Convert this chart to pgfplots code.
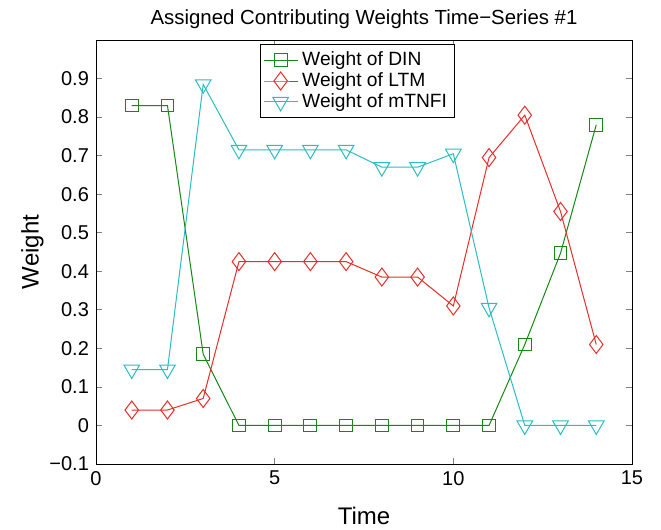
\documentclass[border=0pt]{standalone}
\usepackage{fontspec}
\setmainfont{Liberation Sans}
\usepackage{pgfplots}
\pgfplotsset{compat=1.18}
\definecolor{mgreen}{RGB}{20,135,20}
\definecolor{mred}{RGB}{230,45,40}
\definecolor{mcyan}{RGB}{40,190,195}

\begin{document}
\begin{tikzpicture}
\begin{axis}[
    scale only axis,
    width=268pt,
    height=212pt,
    xmin=0, xmax=15,
    ymin=-0.1, ymax=1.0,
    xtick={0,5,10,15},
    ytick={-0.1,0,0.1,0.2,0.3,0.4,0.5,0.6,0.7,0.8,0.9},
    yticklabels={−0.1,0,0.1,0.2,0.3,0.4,0.5,0.6,0.7,0.8,0.9},
    tick align=inside,
    major tick length=3pt,
    tick style={gray, thin},
    axis line style={black, thin},
    ticklabel style={font=\fontsize{10}{12}\selectfont},
    /pgf/number format/assume math mode=true,
    title={Assigned Contributing Weights Time−Series \#1},
    title style={font=\fontsize{10.2}{12}\selectfont, yshift=-4pt},
    xlabel={Time},
    ylabel={Weight},
    label style={font=\fontsize{12}{14}\selectfont},
    xlabel style={yshift=-4pt},
    ylabel style={yshift=-4pt},
    every axis plot/.append style={line width=0.5pt},
    legend style={at={(0.487,0.99)}, anchor=north, font=\fontsize{9.6}{10}\selectfont,
        draw=black, row sep=-2pt, inner sep=1.5pt},
    legend cell align=left,
]
\addplot[mgreen, mark=square, mark size=3.2pt, mark options={solid}] coordinates {
    (1,0.83) (2,0.83) (3,0.185) (4,0) (5,0) (6,0) (7,0) (8,0) (9,0) (10,0) (11,0)
    (12,0.21) (13,0.447) (14,0.78)
};
\addlegendentry{Weight of DIN}
\addplot[mred, mark=diamond, mark size=4.5pt] coordinates {
    (1,0.04) (2,0.04) (3,0.07) (4,0.425) (5,0.425) (6,0.425) (7,0.425) (8,0.385)
    (9,0.385) (10,0.31) (11,0.695) (12,0.805) (13,0.555) (14,0.21)
};
\addlegendentry{Weight of LTM}
\addplot[mcyan, mark=triangle, mark size=4.5pt, mark options={rotate=180}] coordinates {
    (1,0.145) (2,0.145) (3,0.885) (4,0.715) (5,0.715) (6,0.715) (7,0.715) (8,0.67)
    (9,0.67) (10,0.705) (11,0.305) (12,0) (13,0) (14,0)
};
\addlegendentry{Weight of mTNFI}
\end{axis}
\pgfresetboundingbox
\path[use as bounding box] ([shift={(-48pt,-33pt)}]current axis.south west)
    rectangle ([shift={(14.5pt,20pt)}]current axis.north east);
\end{tikzpicture}
\end{document}
